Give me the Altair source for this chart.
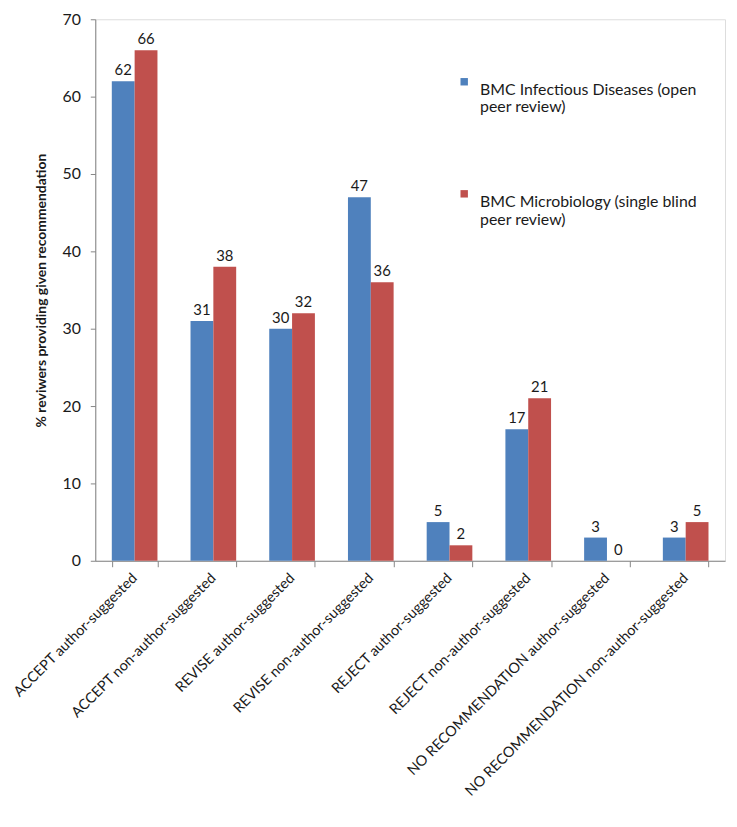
import altair as alt
import pandas as pd

categories = [
    "ACCEPT author-suggested",
    "ACCEPT non-author-suggested",
    "REVISE author-suggested",
    "REVISE non-author-suggested",
    "REJECT author-suggested",
    "REJECT non-author-suggested",
    "NO RECOMMENDATION author-suggested",
    "NO RECOMMENDATION non-author-suggested",
]
series_names = [
    "BMC Infectious Diseases (open peer review)",
    "BMC Microbiology (single blind peer review)",
]
infectious = [62, 31, 30, 47, 5, 17, 3, 3]
microbiology = [66, 38, 32, 36, 2, 21, 0, 5]
colors = ["#4F81BD", "#C0504D"]
y_ticks = [0, 10, 20, 30, 40, 50, 60, 70]

rows = []
for c, a, b in zip(categories, infectious, microbiology):
    rows.append({"category": c, "series": series_names[0], "value": a})
    rows.append({"category": c, "series": series_names[1], "value": b})
df = pd.DataFrame(rows)

FONT = "Lato"

x_enc = alt.X(
    "category:N",
    sort=categories,
    scale=alt.Scale(paddingInner=0.42, paddingOuter=0.21),
    axis=alt.Axis(
        title=None,
        labelAngle=-45,
        labelAlign="right",
        labelBaseline="middle",
        labelFontSize=14.5,
        labelFont=FONT,
        labelColor="#1a1a1a",
        labelPadding=9,
        labelLimit=400,
        tickBand="extent",
        tickSize=6,
        tickColor="#868686",
        domainColor="#868686",
        grid=False,
    ),
)
xoff = alt.XOffset("series:N", sort=series_names, scale=alt.Scale(paddingInner=0))

base = alt.Chart(df)

bars = base.mark_bar().encode(
    x=x_enc,
    xOffset=xoff,
    y=alt.Y(
        "value:Q",
        scale=alt.Scale(domain=[0, 70], nice=False),
        axis=alt.Axis(
            title="% reviwers providing given recommendation",
            titleFont=FONT,
            titleFontSize=14,
            titleFontWeight="bold",
            titleColor="#1a1a1a",
            titlePadding=14,
            values=y_ticks,
            labelFontSize=16,
            labelFont=FONT,
            labelColor="#1a1a1a",
            labelPadding=10,
            tickSize=5,
            tickColor="#868686",
            domainColor="#868686",
            grid=False,
        ),
    ),
    color=alt.Color(
        "series:N",
        sort=series_names,
        scale=alt.Scale(domain=series_names, range=colors),
        legend=alt.Legend(
            title=None,
            orient="none",
            legendX=364,
            legendY=55,
            symbolType="square",
            symbolSize=56,
            symbolStrokeWidth=0,
            labelFont=FONT,
            labelFontSize=16,
            labelColor="#1a1a1a",
            labelLimit=400,
            labelOffset=8,
            rowPadding=71,
            labelBaseline="top",
            labelExpr="split(replace(replace(datum.label, '(open ', '(open|'), 'blind ', 'blind|'), '|')",
        ),
    ),
)

labels = base.mark_text(dy=-11, fontSize=15, font=FONT, color="#1a1a1a").encode(
    x=alt.X("category:N", sort=categories),
    xOffset=xoff,
    y=alt.Y("value:Q"),
    text=alt.Text("value:Q"),
)

chart = (
    alt.layer(bars, labels)
    .properties(
        width=635,
        height=546,
        autosize=alt.AutoSizeParams(type="none"),
        padding={"left": 88, "top": 8, "right": 4, "bottom": 257},
    )
    .configure_view(stroke=None)
    .configure(background="white")
)

chart.save("out.html", embed_options={"renderer": "svg", "actions": False})
